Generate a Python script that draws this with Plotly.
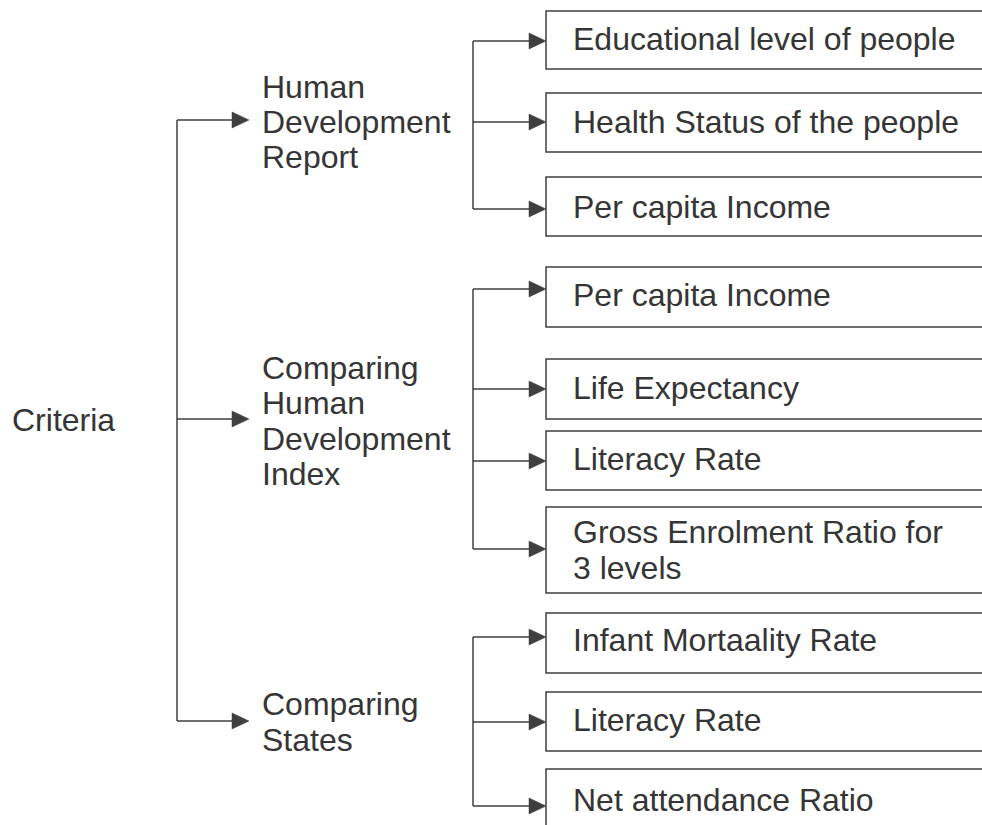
import plotly.graph_objects as go

# ---------------- data ----------------
root_label = "Criteria"
group_labels = [
    "Human<br>Development<br>Report",
    "Comparing<br>Human<br>Development<br>Index",
    "Comparing<br>States",
]
group_items = [
    ["Educational level of people", "Health Status of the people", "Per capita Income"],
    ["Per capita Income", "Life Expectancy", "Literacy Rate", "Gross Enrolment Ratio for<br>3 levels"],
    ["Infant Mortaality Rate", "Literacy Rate", "Net attendance Ratio"],
]

# ---------------- layout (pixel geometry) ----------------
W, H = 982, 825
LINE_C = "#3f3f3f"
TEXT_C = "#353535"
FONT = "Liberation Sans, Arial, Helvetica, sans-serif"
FS = 32
LINE_H = 35.2
TXT_PAD = 3  # annotation inner padding

root_x, root_y = 13, 420
main_bx = 177
group_arrow_y = [120, 419, 721]
group_text_x = 263
group_text_dy = [2, 2, 1]
sub_bx = 473
box_x = 546
box_text_x = 574
item_arrow_y = [[41, 122, 209], [289, 389, 461, 549], [637, 722, 806]]
box_top = [[11, 93, 177], [267, 359, 431, 507], [613, 692, 769]]
box_bot = [[69, 152, 236], [327, 419, 490, 593], [673, 751, 850]]
item_text_y = [[39, 122, 207], [295, 388, 459, 550], [640, 720, 800]]
AH_L, AH_H = 17, 8

shapes = []
annotations = []


def add_text(x, yc, label):
    lines = label.split("<br>")
    n = len(lines)
    for i, ln in enumerate(lines):
        y = yc + (i - (n - 1) / 2) * LINE_H
        annotations.append(dict(
            x=x - TXT_PAD, y=y, xref="x", yref="y", text=ln, showarrow=False,
            xanchor="left", yanchor="middle",
            font=dict(family=FONT, size=FS, color=TEXT_C),
        ))


def add_line(x0, y0, x1, y1):
    shapes.append(dict(type="line", x0=x0, y0=y0, x1=x1, y1=y1, xref="x", yref="y",
                       line=dict(color=LINE_C, width=1.5)))


def add_arrow(x0, x1, y):
    add_line(x0, y, x1 - AH_L + 1, y)
    shapes.append(dict(type="path", xref="x", yref="y",
                       path=f"M {x1} {y} L {x1-AH_L} {y-AH_H} L {x1-AH_L} {y+AH_H} Z",
                       fillcolor=LINE_C, line=dict(color=LINE_C, width=0.5)))


# root
add_text(root_x, root_y, root_label)
add_line(main_bx, group_arrow_y[0], main_bx, group_arrow_y[-1])

for g, glabel in enumerate(group_labels):
    gy = group_arrow_y[g]
    add_arrow(main_bx, group_text_x - 14, gy)
    add_text(group_text_x, gy + group_text_dy[g], glabel)
    ays = item_arrow_y[g]
    add_line(sub_bx, ays[0], sub_bx, ays[-1])
    for k, item in enumerate(group_items[g]):
        add_arrow(sub_bx, box_x, ays[k])
        t, b = box_top[g][k], box_bot[g][k]
        shapes.append(dict(type="path", xref="x", yref="y",
                           path=f"M 1000 {t} L {box_x} {t} L {box_x} {b} L 1000 {b}",
                           line=dict(color=LINE_C, width=1.5)))
        add_text(box_text_x, item_text_y[g][k], item)

fig = go.Figure()
fig.add_trace(go.Scatter(x=[0, W], y=[0, H], mode="markers",
                         marker=dict(opacity=0), hoverinfo="skip", showlegend=False))
fig.update_layout(
    width=W, height=H,
    margin=dict(l=0, r=0, t=0, b=0),
    paper_bgcolor="white", plot_bgcolor="white",
    xaxis=dict(range=[0, W], visible=False, fixedrange=True),
    yaxis=dict(range=[H, 0], visible=False, fixedrange=True),
    shapes=shapes, annotations=annotations, showlegend=False,
)
fig.write_html(
    "out.html",
    config={"displayModeBar": False},
    post_script="document.body.style.margin='0';document.body.style.overflow='hidden';",
)
